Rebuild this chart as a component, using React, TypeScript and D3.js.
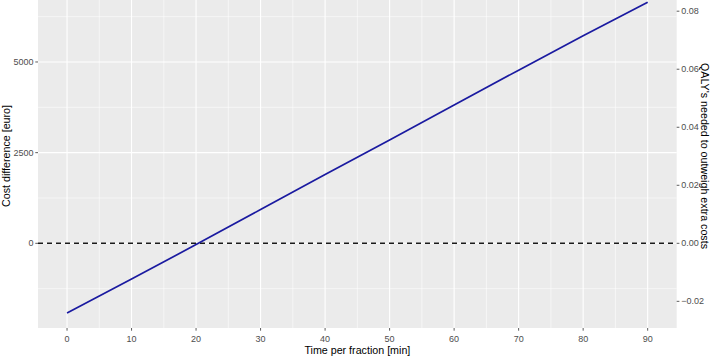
import React from 'react';
import * as d3 from 'd3';

// time per fraction [min] vs cost difference [euro]
const minutes = [0, 10, 20, 30, 40, 50, 60, 70, 80, 90];
const costDiff = [-1920, -985, -35, 930, 1895, 2850, 3815, 4775, 5720, 6650];

const xTicks = [0, 10, 20, 30, 40, 50, 60, 70, 80, 90];
const xMinor = [5, 15, 25, 35, 45, 55, 65, 75, 85];
const yTicks = [0, 2500, 5000];
const yMinor = [-1250, 1250, 3750, 6250];
const qalyTicks = [-0.02, 0, 0.02, 0.04, 0.06, 0.08];
const euroPerQaly = 80000;

const W = 714;
const H = 357;
const panel = { left: 38, right: 676.7, top: -16, bottom: 328 };

export default function App() {
  const x = d3.scaleLinear().domain([-4.5, 94.5]).range([panel.left, panel.right]);
  const y = d3.scaleLinear().domain([-2335, 7150]).range([panel.bottom, panel.top]);
  const yQ = d3.scaleLinear()
    .domain([-2335 / euroPerQaly, 7150 / euroPerQaly])
    .range([panel.bottom, panel.top]);

  const line = d3.line<number>()
    .x((_, i) => x(minutes[i]))
    .y(d => y(d));

  const font = '"Liberation Sans", Arial, sans-serif';
  const tickCol = '#4d4d4d';

  return (
    <svg width={W} height={H} style={{ position: 'absolute', left: 0, top: 0, background: '#fff' }}
      fontFamily={font}>
      <rect x={panel.left} y={0} width={panel.right - panel.left} height={panel.bottom}
        fill="#ebebeb" />
      {/* minor grid */}
      {xMinor.map(v => (
        <line key={'xm' + v} x1={x(v)} x2={x(v)} y1={0} y2={panel.bottom}
          stroke="#fff" strokeWidth={0.55} />
      ))}
      {yMinor.map(v => (
        <line key={'ym' + v} x1={panel.left} x2={panel.right} y1={y(v)} y2={y(v)}
          stroke="#fff" strokeWidth={0.55} />
      ))}
      {/* major grid */}
      {xTicks.map(v => (
        <line key={'xg' + v} x1={x(v)} x2={x(v)} y1={0} y2={panel.bottom}
          stroke="#fff" strokeWidth={1.1} />
      ))}
      {yTicks.map(v => (
        <line key={'yg' + v} x1={panel.left} x2={panel.right} y1={y(v)} y2={y(v)}
          stroke="#fff" strokeWidth={1.1} />
      ))}

      <line x1={panel.left} x2={panel.right} y1={y(0)} y2={y(0)}
        stroke="#1a1a1a" strokeWidth={1.6} strokeDasharray="5,4" />
      <path d={line(costDiff) || ''} fill="none" stroke="#1a1aa0" strokeWidth={1.7}
        strokeLinejoin="round" />

      {/* bottom axis */}
      {xTicks.map(v => (
        <g key={'xt' + v}>
          <line x1={x(v)} x2={x(v)} y1={panel.bottom} y2={panel.bottom + 2.7} stroke="#333" strokeWidth={0.8} />
          <text x={x(v)} y={341.5} textAnchor="middle" fontSize={9} fill={tickCol}>{v}</text>
        </g>
      ))}
      <text x={(panel.left + panel.right) / 2} y={354} textAnchor="middle" fontSize={10.7} fill="#000">
        Time per fraction [min]
      </text>

      {/* left axis */}
      {yTicks.map(v => (
        <g key={'yt' + v}>
          <line x1={panel.left - 2.7} x2={panel.left} y1={y(v)} y2={y(v)} stroke="#333" strokeWidth={0.8} />
          <text x={panel.left - 4.5} y={y(v)} dy="0.35em" textAnchor="end" fontSize={9} fill={tickCol}>{v}</text>
        </g>
      ))}
      <text transform={`translate(10,${(panel.top + panel.bottom) / 2}) rotate(-90)`}
        textAnchor="middle" fontSize={10.7} fill="#000">Cost difference [euro]</text>

      {/* right (secondary) axis */}
      {qalyTicks.map(v => (
        <g key={'qt' + v}>
          <line x1={panel.right} x2={panel.right + 2.7} y1={yQ(v)} y2={yQ(v)} stroke="#333" strokeWidth={0.8} />
          <text x={panel.right + 4.5} y={yQ(v)} dy="0.35em" textAnchor="start" fontSize={9} fill={tickCol}>
            {d3.format('.2f')(v)}
          </text>
        </g>
      ))}
      <text transform={`translate(701,${(panel.top + panel.bottom) / 2}) rotate(90)`}
        textAnchor="middle" fontSize={10.7} fill="#000">QALY's needed to outweigh extra costs</text>
    </svg>
  );
}
